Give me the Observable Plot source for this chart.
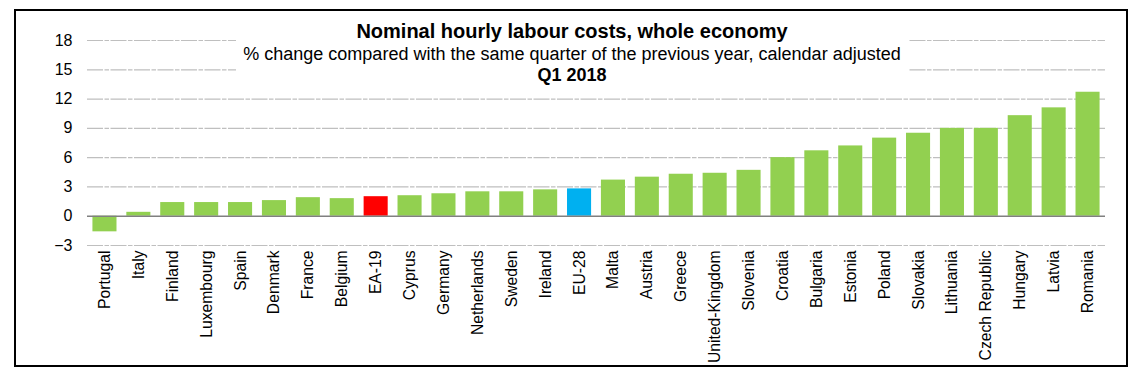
<!DOCTYPE html>
<html>
<head>
<meta charset="utf-8">
<script src="https://cdn.jsdelivr.net/npm/d3@7"></script>
<script src="https://cdn.jsdelivr.net/npm/@observablehq/plot@0.6"></script>
<style>
  html, body { margin: 0; padding: 0; background: #fff; }
  #wrap { position: relative; width: 1144px; height: 382px; font-family: "Liberation Sans", Arial, sans-serif; color: #000; }
  #wrap svg { position: absolute; left: 0; top: 0; }
  #frame { position: absolute; left: 14px; top: 9px; width: 1114px; height: 358px; box-sizing: border-box; border: 2px solid #000; pointer-events: none; }
  #titlebox { position: absolute; left: 236px; top: 20px; width: 672px; height: 62px; background: #fff; }
  .t { position: absolute; left: 0; width: 1144px; text-align: center; line-height: 1; white-space: nowrap; }
  #t1 { top: 21px; font-size: 20px; font-weight: bold; }
  #t2 { top: 44.8px; font-size: 18px; }
  #t3 { top: 66px; font-size: 18px; font-weight: bold; }
</style>
</head>
<body>
<div id="wrap"></div>
<script>
const countries = ["Portugal","Italy","Finland","Luxembourg","Spain","Denmark","France","Belgium","EA-19","Cyprus","Germany","Netherlands","Sweden","Ireland","EU-28","Malta","Austria","Greece","United-Kingdom","Slovenia","Croatia","Bulgaria","Estonia","Poland","Slovakia","Lithuania","Czech Republic","Hungary","Latvia","Romania"];
const values = [-1.6,0.4,1.4,1.4,1.4,1.6,1.9,1.8,2.0,2.1,2.3,2.5,2.5,2.7,2.8,3.7,4.0,4.3,4.4,4.7,6.0,6.7,7.2,8.0,8.5,9.0,9.0,10.3,11.1,12.7];
const yTicks = [-3,0,3,6,9,12,15,18];
const gridTicks = [-3,3,6,9,12,15,18];
const titleText = "Nominal hourly labour costs, whole economy";
const subtitleText = "% change compared with the same quarter of the previous year, calendar adjusted";
const periodText = "Q1 2018";

const colorFor = c => c === "EA-19" ? "#FF0000" : c === "EU-28" ? "#00B0F0" : "#92D050";
const data = countries.map((c, i) => ({country: c, value: values[i], color: colorFor(c)}));

const chart = Plot.plot({
  width: 1144,
  height: 382,
  marginLeft: 87,
  marginRight: 39,
  marginTop: 40,
  marginBottom: 137,
  style: {fontFamily: "'Liberation Sans', Arial, sans-serif", color: "#000", background: "transparent"},
  x: {domain: countries, paddingInner: 0.29, paddingOuter: 0.16, round: false, label: null},
  y: {domain: [-3, 18], label: null},
  marks: [
    Plot.ruleY(gridTicks, {stroke: "#bfbfbf", strokeWidth: 1.2, strokeDasharray: "16,1.5,4.5,1.5"}),
    Plot.barY(data, {x: "country", y: "value", fill: "color"}),
    Plot.ruleY([0], {stroke: "#808080", strokeWidth: 1.4}),
    Plot.axisY({ticks: yTicks, tickSize: 0, tickPadding: 15, fontSize: 16, label: null}),
    Plot.axisX({tickSize: 0, tickPadding: 5, tickRotate: -90, fontSize: 15.7, label: null})
  ]
});

const wrap = document.getElementById("wrap");
wrap.appendChild(chart);
const box = document.createElement("div"); box.id = "titlebox"; wrap.appendChild(box);
[["t1", titleText], ["t2", subtitleText], ["t3", periodText]].forEach(([id, txt]) => {
  const d = document.createElement("div"); d.id = id; d.className = "t"; d.textContent = txt; wrap.appendChild(d);
});
const fr = document.createElement("div"); fr.id = "frame"; wrap.appendChild(fr);
</script>
</body>
</html>
